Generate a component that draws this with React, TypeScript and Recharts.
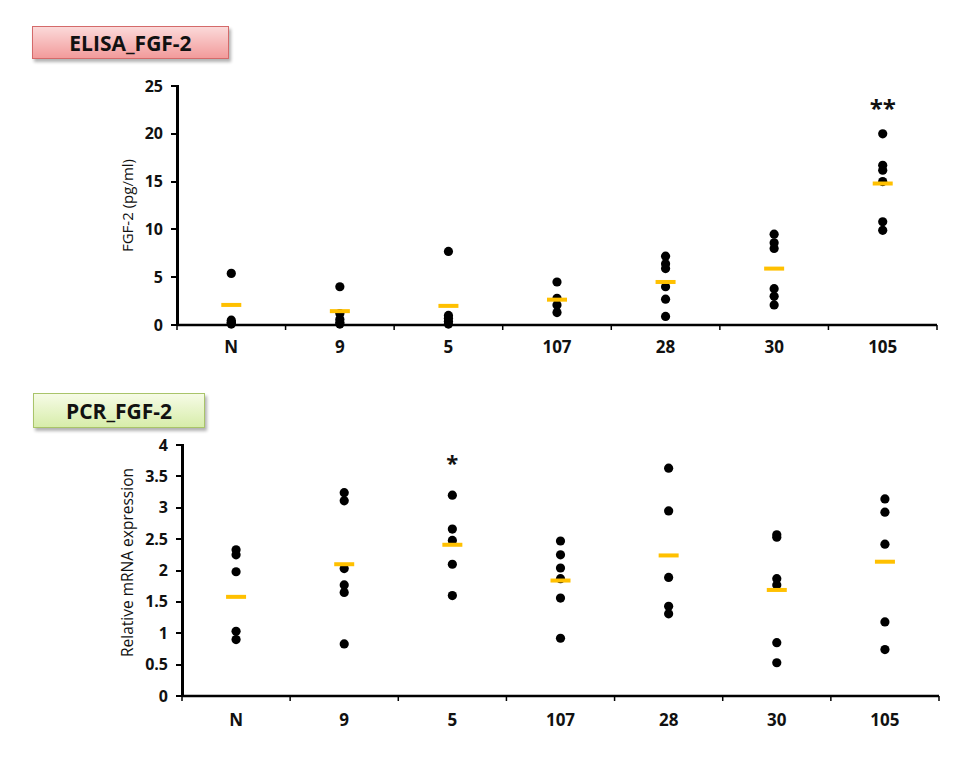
import React from "react"
import {
  ScatterChart,
  Scatter,
  XAxis,
  YAxis,
  ReferenceLine,
} from "recharts"

const categories = ["N", "9", "5", "107", "28", "30", "105"]

// ELISA FGF-2 (pg/ml), one list per group
const elisaValues: number[][] = [
  [5.4, 0.5, 0.3, 0.2, 0.1],
  [4.0, 1.2, 0.6, 0.3, 0.1],
  [7.7, 1.0, 0.7, 0.4, 0.1],
  [4.5, 2.8, 2.1, 1.3],
  [7.2, 6.4, 5.9, 4.0, 2.7, 0.9],
  [9.5, 8.6, 8.0, 3.8, 3.0, 2.1],
  [20.0, 16.7, 16.2, 15.0, 10.8, 9.9],
]
const elisaMeans = [2.1, 1.45, 2.0, 2.65, 4.5, 5.9, 14.8]
const elisaTicks = [0, 5, 10, 15, 20, 25]
const elisaStars = [{ group: 6, y: 23.1, text: "**" }]

// PCR relative mRNA expression
const pcrValues: number[][] = [
  [2.33, 2.25, 1.98, 1.03, 0.9],
  [3.24, 3.11, 2.03, 1.77, 1.65, 0.83],
  [3.2, 2.66, 2.48, 2.1, 1.6],
  [2.47, 2.25, 2.04, 1.87, 1.56, 0.92],
  [3.63, 2.95, 1.89, 1.43, 1.31],
  [2.57, 2.53, 1.87, 1.77, 0.85, 0.53],
  [3.14, 2.93, 2.42, 1.18, 0.74],
]
const pcrMeans = [1.58, 2.1, 2.41, 1.84, 2.24, 1.69, 2.14]
const pcrTicks = [0, 0.5, 1, 1.5, 2, 2.5, 3, 3.5, 4]
const pcrStars = [{ group: 2, y: 3.78, text: "*" }]

const FONT = "'Open Sans', 'Noto Sans', sans-serif"
const CHART_W = 967
const Y_AXIS_W = 60
const X_AXIS_H = 30
const boundaryTicks = categories.map((_, i) => i).concat(categories.length)

type Star = { group: number; y: number; text: string }

type DotPlotProps = {
  values: number[][]
  means: number[]
  ticks: number[]
  stars: Star[]
  yLabel: string
  height: number
  margin: { top: number; right: number; bottom: number; left: number }
  labelDx: number
  labelDy: number
  labelSize: number
  starSize: number
  catDy: number
}

function DotPlot({ values, means, ticks, stars, yLabel, height, margin, labelDx, labelDy, labelSize, starSize, catDy }: DotPlotProps) {
  const points = values.flatMap((vals, i) => vals.map((v) => ({ x: i + 0.5, y: v })))
  const meanPoints = means.map((m, i) => ({ x: i + 0.5, y: m }))
  const starPoints = stars.map((s) => ({ x: s.group + 0.5, y: s.y, text: s.text }))
  const yMax = ticks[ticks.length - 1]
  const band = (CHART_W - margin.left - Y_AXIS_W - margin.right) / categories.length
  const plotH = height - margin.top - margin.bottom - X_AXIS_H

  const xTick = (p: any) => {
    const i = p.payload.value
    return (
      <g>
        <line x1={p.x} x2={p.x} y1={p.y} y2={p.y + 5} stroke="#000" strokeWidth={1.5} />
        {i < categories.length && (
          <text
            x={p.x + band / 2}
            y={p.y + catDy}
            textAnchor="middle"
            fontSize={17}
            fontWeight={700}
            fontFamily={FONT}
            fill="#111"
          >
            {categories[i]}
          </text>
        )}
      </g>
    )
  }

  // the axis line itself is drawn from the top tick down to the baseline
  const yTick = (p: any) => (
    <g>
      {p.payload.value === yMax && (
        <line
          x1={p.x}
          x2={p.x}
          y1={p.y - 1}
          y2={p.y + plotH + 1}
          stroke="#000"
          strokeWidth={3}
          shapeRendering="crispEdges"
        />
      )}
      <line x1={p.x - 6} x2={p.x} y1={p.y} y2={p.y} stroke="#000" strokeWidth={2} shapeRendering="crispEdges" />
      <text
        x={p.x - 14}
        y={p.y + 5.5}
        textAnchor="end"
        fontSize={16}
        fontWeight={700}
        fontFamily={FONT}
        fill="#111"
      >
        {p.payload.value}
      </text>
    </g>
  )

  return (
    <ScatterChart width={CHART_W} height={height} margin={margin}>
      <XAxis
        type="number"
        dataKey="x"
        domain={[0, categories.length]}
        ticks={boundaryTicks}
        height={X_AXIS_H}
        axisLine={false}
        tickLine={false}
        tickSize={0}
        tickMargin={0}
        tick={xTick}
        interval={0}
      />
      <YAxis
        type="number"
        dataKey="y"
        domain={[0, yMax]}
        ticks={ticks}
        width={Y_AXIS_W}
        axisLine={false}
        tickLine={false}
        tickSize={0}
        tickMargin={0}
        tick={yTick}
        interval={0}
        label={{
          value: yLabel,
          angle: -90,
          position: "center",
          dx: labelDx,
          dy: labelDy,
          style: { fill: "#111", fontSize: labelSize, fontFamily: FONT, textAnchor: "middle" },
        }}
      />
      <ReferenceLine y={0} stroke="#000" strokeWidth={2.5} ifOverflow="visible" />
      <Scatter
        data={points}
        isAnimationActive={false}
        shape={(p: any) => <circle cx={p.cx} cy={p.cy} r={4.6} fill="#000" />}
      />
      <Scatter
        data={meanPoints}
        isAnimationActive={false}
        shape={(p: any) => <rect x={p.cx - 10} y={p.cy - 2} width={20} height={4} fill="#FFC000" />}
      />
      <Scatter
        data={starPoints}
        isAnimationActive={false}
        shape={(p: any) => (
          <text
            x={p.cx}
            y={p.cy + starSize * 0.55}
            textAnchor="middle"
            fontSize={starSize}
            fontWeight={700}
            fontFamily={FONT}
            fill="#111"
          >
            {p.payload.text}
          </text>
        )}
      />
    </ScatterChart>
  )
}

const boxBase: React.CSSProperties = {
  position: "absolute",
  display: "flex",
  alignItems: "center",
  justifyContent: "center",
  fontFamily: FONT,
  fontWeight: 700,
  fontSize: 21,
  color: "#111",
  boxSizing: "border-box",
  boxShadow: "2px 3px 3px rgba(0,0,0,0.3)",
}

export default function App() {
  return (
    <div style={{ position: "absolute", left: 0, top: 0, width: 967, height: 763, background: "#fff" }}>
      <div
        style={{
          ...boxBase,
          left: 32,
          top: 26,
          width: 197,
          height: 33,
          border: "1px solid #d46a6a",
          background: "linear-gradient(#fbd9d9, #f29b9b)",
        }}
      >
        ELISA_FGF-2
      </div>
      <div
        style={{
          ...boxBase,
          left: 33,
          top: 393,
          width: 172,
          height: 35,
          border: "1px solid #a9c46a",
          background: "linear-gradient(#f6fbe6, #d7edaa)",
        }}
      >
        PCR_FGF-2
      </div>
      <div style={{ position: "absolute", left: 0, top: 0 }}>
        <DotPlot
          values={elisaValues}
          means={elisaMeans}
          ticks={elisaTicks}
          stars={elisaStars}
          yLabel="FGF-2 (pg/ml)"
          height={380}
          margin={{ top: 86, right: 30, bottom: 25, left: 117 }}
          labelDx={-19}
          labelDy={0}
          labelSize={15}
          starSize={24}
          catDy={28}
        />
      </div>
      <div style={{ position: "absolute", left: 0, top: 380 }}>
        <DotPlot
          values={pcrValues}
          means={pcrMeans}
          ticks={pcrTicks}
          stars={pcrStars}
          yLabel="Relative mRNA expression"
          height={383}
          margin={{ top: 65, right: 28, bottom: 37, left: 122 }}
          labelDx={-25}
          labelDy={-8}
          labelSize={15.5}
          starSize={22}
          catDy={30}
        />
      </div>
    </div>
  )
}
